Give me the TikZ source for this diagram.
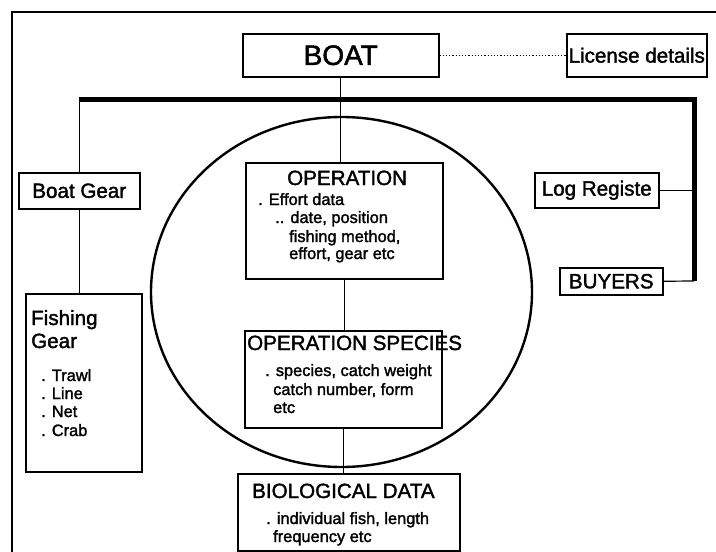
\documentclass[tikz,border=0pt]{standalone}
\usepackage{fontspec}
\setmainfont{Liberation Sans}[FakeBold=1.7]
\usetikzlibrary{calc,shapes.geometric}

\tikzset{
  box/.style={draw, line width=1.5pt, inner sep=0pt, anchor=north west},
  link/.style={line width=1.2pt},
  bus/.style={line width=5pt},
  label20/.style={font=\fontsize{20.6}{24}\selectfont},
  head/.style={anchor=base west, inner sep=0pt, font=\fontsize{20.6}{24}\selectfont},
  body/.style={anchor=base west, inner sep=0pt, font=\fontsize{16.4}{18}\selectfont},
}

\begin{document}
\begin{tikzpicture}[x=1pt,y=-1pt]
\useasboundingbox (0,0) rectangle (716,552);

% outer frame
\draw[line width=2.6pt] (12,552) -- (12,12) -- (716,12);

% top row
\node[box, minimum width=196, minimum height=43, font=\fontsize{28}{32}\selectfont] (boat) at (242,33) {BOAT};
\node[box, minimum width=140, minimum height=43, label20] (lic) at (566,33) {License details};

% side boxes
\node[box, minimum width=121, minimum height=36, label20] (bgear) at (18,172) {Boat Gear};
\node[box, minimum width=124, minimum height=35, label20] (log) at (534,172) {Log Registe};
\node[box, minimum width=103, minimum height=27, label20] (buyers) at (559,267) {BUYERS};

% the ring round the operation records
\node[draw, ellipse, line width=2.4pt, inner sep=0pt, minimum width=381, minimum height=350] (ring) at (341.5,292) {};

% operation
\node[box, minimum width=197, minimum height=116] (op) at (245,162) {};
\node[head] (op-h) at ([shift={(42,23)}]op.north west) {OPERATION};
\node[body] (op-1) at ([shift={(13,43)}]op.north west) {. Effort data};
\node[body] (op-2) at ([shift={(30,61)}]op.north west) {.. date, position};
\node[body] (op-3) at ([shift={(44,80)}]op.north west) {fishing method,};
\node[body] (op-4) at ([shift={(44,97)}]op.north west) {effort, gear etc};

% operation species
\node[box, minimum width=197, minimum height=97] (ops) at (244,330) {};
\node[head] (ops-h) at ([shift={(3,20)}]ops.north west) {OPERATION SPECIES};
\node[body] (ops-1) at ([shift={(21,46)}]ops.north west) {. species, catch weight};
\node[body] (ops-2) at ([shift={(29,65)}]ops.north west) {catch number, form};
\node[body] (ops-3) at ([shift={(29,83)}]ops.north west) {etc};

% biological data
\node[box, minimum width=222, minimum height=77] (bio) at (237,473) {};
\node[head] (bio-h) at ([shift={(15,25)}]bio.north west) {BIOLOGICAL DATA};
\node[body] (bio-1) at ([shift={(29,51)}]bio.north west) {. individual fish, length};
\node[body] (bio-2) at ([shift={(36,69)}]bio.north west) {frequency etc};

% fishing gear
\node[box, minimum width=116, minimum height=178] (fgear) at (25,293) {};
\node[head] (fg-h1) at ([shift={(6,32)}]fgear.north west) {Fishing};
\node[head] (fg-h2) at ([shift={(6,55)}]fgear.north west) {Gear};
\node[body] (fg-1) at ([shift={(16,88)}]fgear.north west) {. Trawl};
\node[body] (fg-2) at ([shift={(16,106)}]fgear.north west) {. Line};
\node[body] (fg-3) at ([shift={(16,124)}]fgear.north west) {. Net};
\node[body] (fg-4) at ([shift={(16,143)}]fgear.north west) {. Crab};

% heavy bus
\coordinate (barL) at (bgear.north |- 0,99);
\coordinate (barR) at (694,99);
\coordinate (barB) at (694,281);
\draw[bus] (barL) -- (barR) -- (barB);

% connectors
\draw[link, dotted] (boat.east) -- (lic.west);
\draw[link] (boat.south) -- (boat.south |- op.north);
\draw[link] (barL) -- (bgear.north);
\draw[link] (bgear.south) -- (bgear.south |- fgear.north);
\draw[link] (log.east) -- (log.east -| barR);
\draw[link] (buyers.east) -- (barB);
\draw[link] (op.south) -- (op.south |- ops.north);
\draw[link] (ops.south) -- (ops.south |- bio.north);
\end{tikzpicture}
\end{document}
